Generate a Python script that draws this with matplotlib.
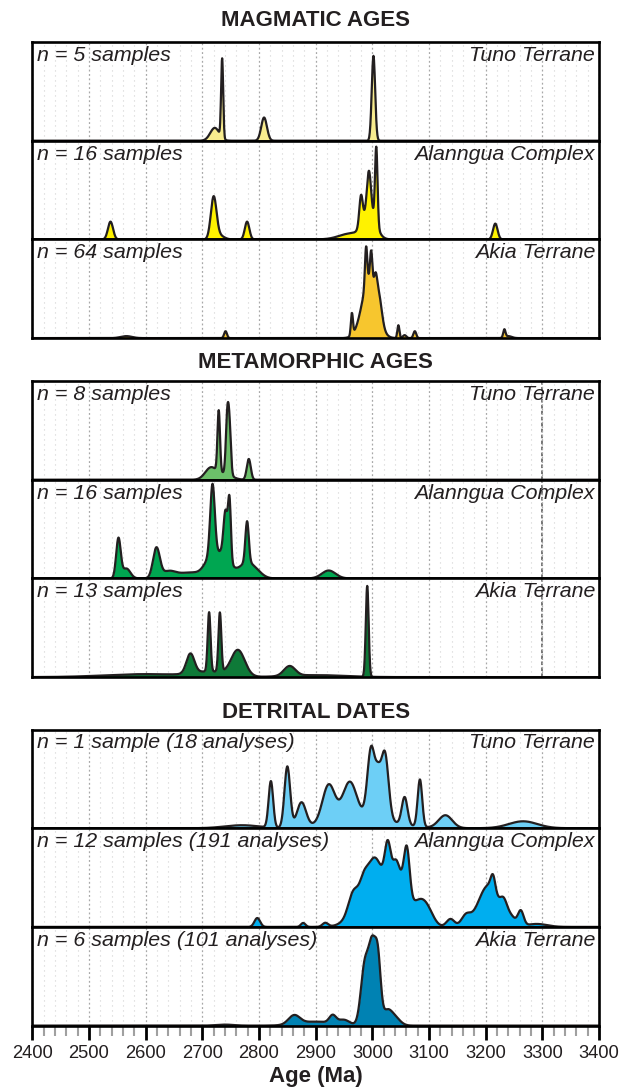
import matplotlib
matplotlib.use('agg')
import matplotlib.pyplot as plt
from matplotlib.ticker import MultipleLocator
import numpy as np

plt.rcParams['font.family'] = ['Liberation Sans', 'DejaVu Sans']

# age distribution of each panel, read off the figure as
# peak components: (age Ma, spread Ma, height as fraction of panel)
groups = ['MAGMATIC AGES', 'METAMORPHIC AGES', 'DETRITAL DATES']
terranes = ['Tuno Terrane', 'Alanngua Complex', 'Akia Terrane']

mag_counts = ['n = 5 samples', 'n = 16 samples', 'n = 64 samples']
met_counts = ['n = 8 samples', 'n = 16 samples', 'n = 13 samples']
det_counts = ['n = 1 sample (18 analyses)', 'n = 12 samples (191 analyses)',
              'n = 6 samples (101 analyses)']

mag_tuno = [(2722, 8, 0.13), (2735, 1.8, 0.80), (2809, 5, 0.235),
            (3002, 3, 0.86)]
mag_alanngua = [(2538, 4.5, 0.18), (2720, 5, 0.42), (2730, 8, 0.04),
                (2779, 4, 0.18), (2962, 20, 0.06), (2995, 11, 0.28),
                (2980, 3, 0.30), (2994, 3.5, 0.40), (3007, 2.2, 0.78),
                (3217, 4, 0.16)]
mag_akia = [(2566, 10, 0.02), (2741, 2.5, 0.07), (2964, 1.8, 0.22),
            (2995, 13, 0.60), (3012, 5, 0.20), (2989, 2, 0.39),
            (2998, 2, 0.30), (3006, 2.5, 0.15), (3046, 1.8, 0.13),
            (3057, 3, 0.03), (3075, 2.5, 0.07), (3233, 2, 0.08),
            (3240, 6, 0.02)]

met_tuno = [(2715, 10, 0.12), (2740, 12, 0.06), (2729, 2.2, 0.62),
            (2744, 2.5, 0.55), (2748, 2.5, 0.45), (2782, 3.5, 0.21)]
met_alanngua = [(2552, 4, 0.40), (2566, 7, 0.10), (2619, 6, 0.30),
                (2640, 12, 0.06), (2680, 25, 0.06), (2712, 10, 0.12),
                (2718, 4, 0.72), (2735, 14, 0.25), (2741, 3.5, 0.45),
                (2748, 2.5, 0.60), (2779, 3, 0.42), (2775, 12, 0.12),
                (2792, 12, 0.08), (2923, 12, 0.08)]
met_akia = [(2600, 70, 0.03), (2679, 7, 0.2), (2712, 2.5, 0.6),
            (2731, 2.5, 0.6), (2763, 12, 0.26), (2715, 30, 0.05),
            (2854, 10, 0.1), (2900, 50, 0.02), (2991, 2.5, 0.92)]

det_tuno = [(2770, 30, 0.03), (2821, 4, 0.47), (2850, 5, 0.62),
            (2875, 8, 0.25), (2923, 11, 0.38), (2960, 12, 0.36),
            (2980, 50, 0.12), (2998, 6.5, 0.70), (3010, 5, 0.32),
            (3022, 6.5, 0.68), (3057, 5, 0.28), (3084, 4, 0.48),
            (3129, 12, 0.13), (3266, 25, 0.07)]
det_alanngua = [(2797, 5, 0.09), (2878, 4, 0.04), (2917, 5, 0.04),
                (2965, 8, 0.15), (2985, 6, 0.08), (3000, 25, 0.55),
                (3005, 10, 0.15), (3027, 5, 0.34), (3042, 5, 0.10),
                (3045, 15, 0.45), (3061, 5, 0.48), (3085, 14, 0.25),
                (3100, 10, 0.06), (3138, 7, 0.08), (3165, 8, 0.10),
                (3205, 18, 0.42), (3213, 4, 0.15), (3232, 6, 0.14),
                (3245, 8, 0.08), (3262, 5, 0.15), (3290, 18, 0.03)]
det_akia = [(2740, 15, 0.01), (2862, 10, 0.09), (2900, 30, 0.04),
            (2930, 6, 0.08), (2950, 10, 0.05), (2987, 7, 0.62),
            (3000, 6, 0.72), (3010, 5, 0.60), (3025, 8, 0.12),
            (3038, 10, 0.09)]

panels = [mag_tuno, mag_alanngua, mag_akia,
          met_tuno, met_alanngua, met_akia,
          det_tuno, det_alanngua, det_akia]
counts = mag_counts + met_counts + det_counts
colors = ['#f8ec8e', '#fff200', '#f7c62e',
          '#6cc06a', '#00a651', '#0e7a38',
          '#6dcff6', '#00aeef', '#0082b3']

ink = '#231f20'
W, H = 619, 1090
left, right = 32.3, 599.0
group_tops = [42, 381, 729.5]
panel_h = 98.7
title_y = [20, 362, 713]

ages = np.arange(2400, 3400.5, 0.5)


def density(components):
    y = np.zeros_like(ages)
    for mu, sd, amp in components:
        y += amp * np.exp(-0.5 * ((ages - mu) / sd) ** 2)
    return y


fig = plt.figure(figsize=(W / 100, H / 100), dpi=100)

for g in range(3):
    fig.text(0.5 * (left + right) / W, 1 - title_y[g] / H, groups[g],
             ha='center', va='center', fontsize=16, fontweight='bold',
             color=ink)
    for k in range(3):
        i = g * 3 + k
        top = group_tops[g] + k * panel_h
        ax = fig.add_axes([left / W, 1 - (top + panel_h) / H,
                           (right - left) / W, panel_h / H])
        ax.set_xlim(2400, 3400)
        ax.set_ylim(0, 1)
        ax.xaxis.set_major_locator(MultipleLocator(100))
        ax.xaxis.set_minor_locator(MultipleLocator(20))
        ax.grid(which='minor', axis='x', color='#d2d2d2', lw=0.8,
                ls=(0, (1, 3.5)))
        ax.grid(which='major', axis='x', color='#a8a8a8', lw=0.9,
                ls=(0, (1.5, 2)))
        ax.set_axisbelow(True)
        if g == 1:
            ax.axvline(3300, color='#6a6a6a', lw=1.3, ls=(0, (2, 1.3)),
                       zorder=0.5)
        y = density(panels[i])
        ax.fill_between(ages, 0, y, color=colors[i], lw=0, zorder=2)
        ax.plot(ages, y, color=ink, lw=1.6, zorder=3,
                solid_joinstyle='round')
        ax.set_yticks([])
        for s in ax.spines.values():
            s.set_linewidth(1.9)
            s.set_color('black')
            s.set_zorder(4)
        ax.text(0.008, 0.96, counts[i], transform=ax.transAxes,
                ha='left', va='top', fontsize=15.4, style='italic',
                color=ink, zorder=5)
        ax.text(0.993, 0.96, terranes[k], transform=ax.transAxes,
                ha='right', va='top', fontsize=15.4, style='italic',
                color=ink, zorder=5)
        if i == 8:
            ax.tick_params(axis='x', which='major', direction='out',
                           length=10, width=2.0, color='black',
                           labelsize=13.2, labelcolor=ink, pad=4)
            ax.tick_params(axis='x', which='minor', direction='out',
                           length=7, width=1.5, color='#a0a0a0')
            ax.set_xlabel('Age (Ma)', fontsize=16, fontweight='bold',
                          color=ink, labelpad=3)
        else:
            ax.tick_params(axis='x', which='both', length=0,
                           labelbottom=False)

fig.savefig('out.png', dpi=100)
